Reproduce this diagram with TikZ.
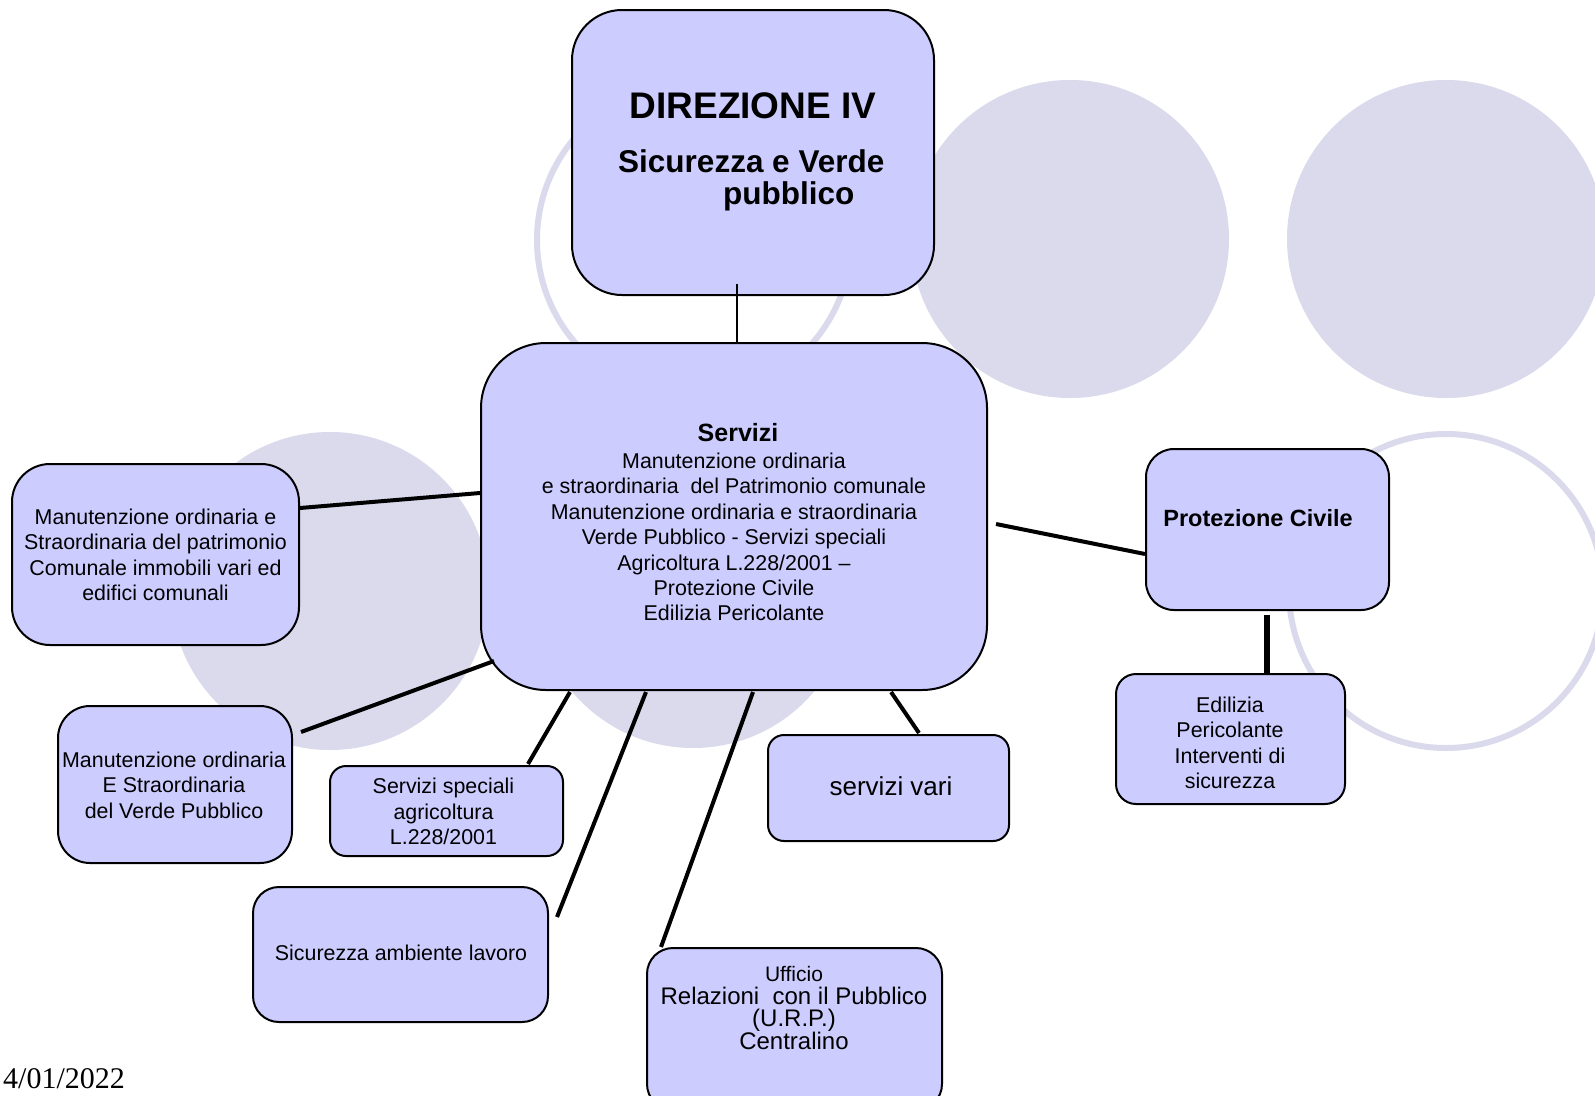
\documentclass[tikz,border=0pt]{standalone}
\usepackage{fontspec}
\setmainfont{Liberation Sans}
\newfontfamily\timesfont{Liberation Serif}
\usetikzlibrary{calc}
\definecolor{boxblue}{RGB}{204,204,255}
\definecolor{circfill}{RGB}{218,218,236}
\tikzset{
  box/.style={draw=black, line width=2pt, fill=boxblue, inner sep=0pt},
  conn/.style={draw=black, line width=4pt},
  thinconn/.style={draw=black, line width=2pt},
  thickconn/.style={draw=black, line width=6pt},
  txt/.style={inner sep=0pt, align=center, font=\fontsize{21.4}{25.4}\selectfont},
  bgdisc/.style={fill=circfill, draw=none},
  ring/.style={draw=circfill, line width=6pt},
}
\begin{document}
\begin{tikzpicture}[x=1pt, y=-1pt]
\path[use as bounding box, clip] (0,0) rectangle (1595,1095);
\fill[white] (0,0) rectangle (1595,1095);

% background circles
\draw[ring] (694,240) circle (157pt);
\fill[bgdisc] (1070,239) circle (159pt);
\fill[bgdisc] (1446,239) circle (159pt);
\draw[ring] (1446,591) circle (157pt);
\fill[bgdisc] (330,591) circle (159pt);
\fill[bgdisc] (693,590) circle (158pt);

% boxes
\node[box, rounded corners=50pt, minimum width=362pt, minimum height=285pt] (dir) at (753,152.5) {};
\node[box, rounded corners=65pt, minimum width=506pt, minimum height=347pt] (serv) at (734,516.5) {};
\node[box, rounded corners=38pt, minimum width=287pt, minimum height=181pt] (lbone) at (155.5,554.5) {};
\node[box, rounded corners=32pt, minimum width=234pt, minimum height=157pt] (lbtwo) at (175,784.5) {};
\node[box, rounded corners=16pt, minimum width=233pt, minimum height=90pt] (ssa) at (446.5,811) {};
\node[box, rounded corners=26pt, minimum width=295pt, minimum height=135pt] (sic) at (400.5,954.5) {};
\node[box, rounded corners=26pt, minimum width=295pt, minimum height=162pt] (urp) at (794.5,1029) {};
\node[box, rounded corners=16pt, minimum width=241pt, minimum height=106pt] (sv) at (888.5,788) {};
\node[box, rounded corners=28pt, minimum width=243pt, minimum height=161pt] (pc) at (1267.5,529.5) {};
\node[box, rounded corners=20pt, minimum width=229pt, minimum height=130pt] (ed) at (1230.5,739) {};

% connectors
\draw[thinconn] ($(dir.south)+(-16,-12)$) -- ($(serv.north)+(3,0)$);
\draw[conn] ($(lbone.east)+(0,-46.5)$) -- ($(serv.west)+(0,-23.5)$);
\draw[conn] ($(lbtwo.east)+(8,-52.5)$) -- ($(serv.south west)+(14,-30)$);
\draw[conn] ($(ssa.north east)+(-36,-1)$) -- ($(serv.south west)+(90,1)$);
\draw[conn] ($(sic.north east)+(8,31)$) -- ($(serv.south west)+(166,1)$);
\draw[conn] ($(urp.north west)+(15,0)$) -- ($(serv.south)+(19,1)$);
\draw[conn] ($(sv.north)+(30.5,-1)$) -- ($(serv.south east)+(-97,1)$);
\draw[conn] ($(serv.east)+(8,7.5)$) -- ($(pc.west)+(0,24.5)$);
\draw[thickconn] ($(pc.south)+(-0.5,4)$) -- ($(ed.north)+(36.5,0)$);

% texts
\node[inner sep=0pt, font=\bfseries\fontsize{37}{40}\selectfont] (dirtitle) at (753,106) {DIREZIONE IV};
\node[inner sep=0pt, anchor=west, align=left, font=\bfseries\fontsize{31.5}{31.5}\selectfont] (dirsub) at (618,180.5) {Sicurezza e Verde\\\hspace*{105pt}pubblico};

\node[txt] (servtxt) at (734,522) {\hspace*{8pt}{\bfseries\fontsize{25}{25}\selectfont Servizi}\\[2pt]
Manutenzione ordinaria\\
e straordinaria\ \ del Patrimonio comunale\\
Manutenzione ordinaria e straordinaria\\
Verde Pubblico - Servizi speciali\\
Agricoltura L.228/2001 --\\
Protezione Civile\\
Edilizia Pericolante};

\node[txt] (lbonetxt) at (155.5,555) {Manutenzione ordinaria e\\Straordinaria del patrimonio\\Comunale immobili vari ed\\edifici comunali};
\node[txt] (lbtwotxt) at (174,785) {Manutenzione ordinaria\\E Straordinaria\\del Verde Pubblico};
\node[txt] (ssatxt) at (443.5,811.5) {Servizi speciali\\agricoltura\\L.228/2001};
\node[txt] (sictxt) at (401,953) {Sicurezza ambiente lavoro};
\node[txt, font=\fontsize{26}{28}\selectfont] (svtxt) at (891,786) {servizi vari};
\node[txt, font=\bfseries\fontsize{23.5}{26}\selectfont] (pctxt) at (1258,518) {Protezione Civile};
\node[txt] (edtxt) at (1230,743) {Edilizia\\Pericolante\\Interventi di\\sicurezza};
\node[txt, font=\fontsize{24}{22.5}\selectfont] (urptxt) at (794,1008) {{\fontsize{21}{22.5}\selectfont Ufficio}\\Relazioni\ \ con il Pubblico\\(U.R.P.)\\Centralino};

\node[inner sep=0pt, anchor=base west, font=\timesfont\fontsize{30}{30}\selectfont] (date) at (3,1088) {4/01/2022};
\end{tikzpicture}
\end{document}
